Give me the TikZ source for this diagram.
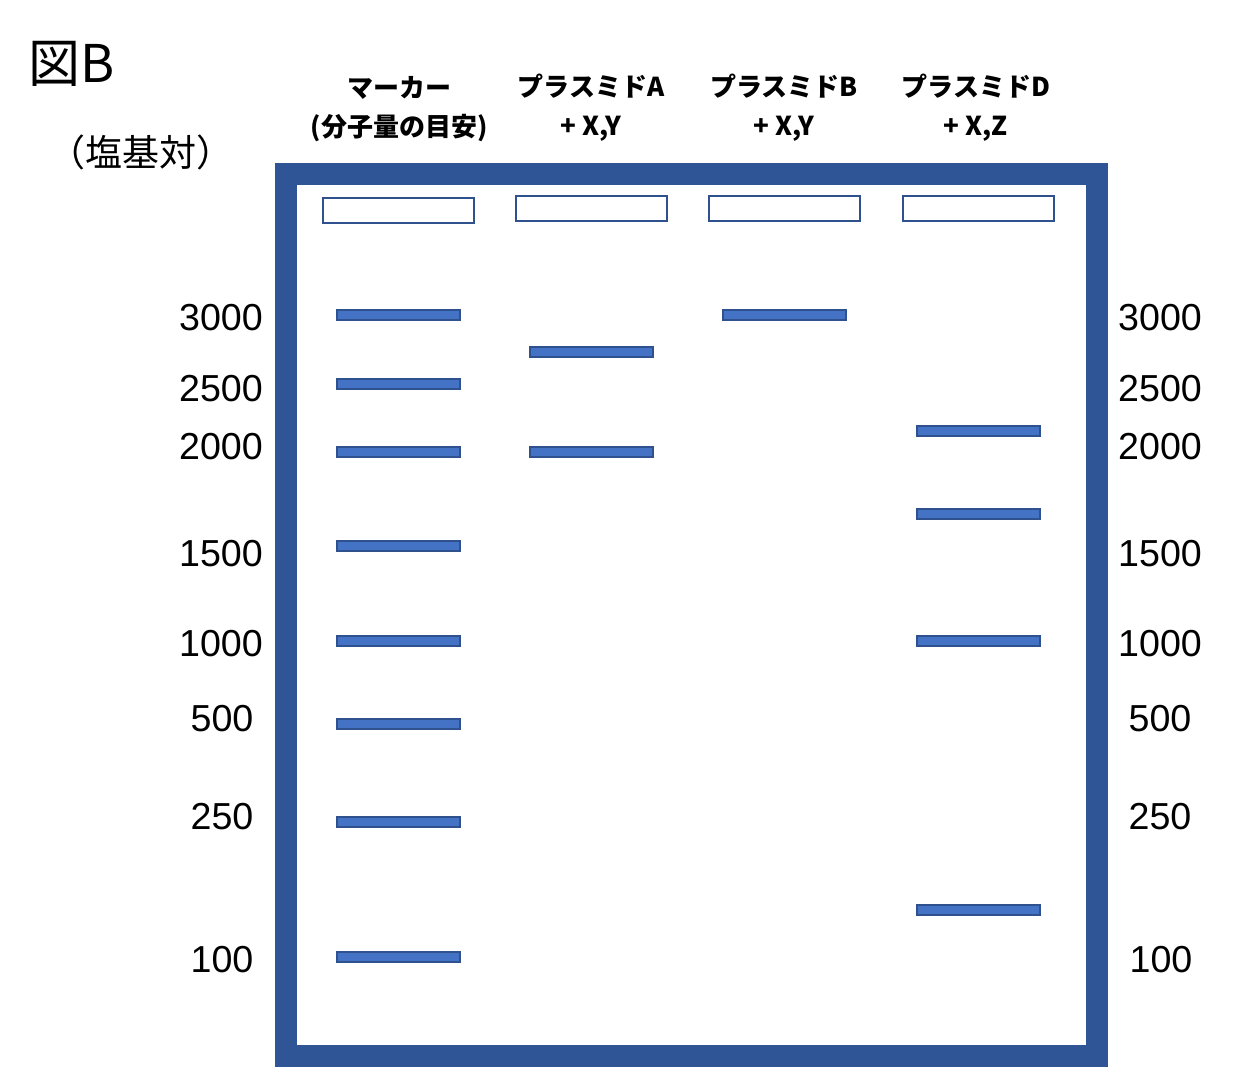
\documentclass[tikz,border=0pt]{standalone}
\usepackage{fontspec}
\setmainfont{Liberation Sans}
\newfontfamily\jpfont{Noto Sans CJK JP}
\usetikzlibrary{positioning}
\definecolor{gelblue}{HTML}{2F5597}
\definecolor{bandfill}{HTML}{4472C4}
\definecolor{bandline}{HTML}{2F528F}
\tikzset{
  band style/.style={rectangle, draw=bandline, fill=bandfill, line width=1pt,
    minimum width=61.5pt, minimum height=4.8pt, inner sep=0pt},
  well style/.style={rectangle, draw=bandline, fill=white, line width=1pt,
    minimum width=75.5pt, minimum height=12.5pt, inner sep=0pt},
  size style/.style={font=\fontsize{18.8}{21}\selectfont, inner sep=0pt},
  lane style/.style={font=\jpfont\bfseries\fontsize{13}{19.5}\selectfont, align=center, inner sep=0pt}
}
\begin{document}
\begin{tikzpicture}[x=0.5pt, y=-0.5pt]
\useasboundingbox (0,0) rectangle (1236,1086);

% titles
\node[font=\jpfont\fontsize{26}{30}\selectfont, inner sep=0pt] (title) at (72,64) {図B};
\node[font=\jpfont\fontsize{18.5}{21}\selectfont, inner sep=0pt] (unit) at (141,152) {（塩基対）};

% lane headings
\node[lane style] (hm) at (399,109) {マーカー\\(分子量の目安)};
\node[lane style] (ha) at (591,108) {プラスミドA\\+ X,Y};
\node[lane style] (hb) at (784,108) {プラスミドB\\+ X,Y};
\node[lane style] (hd) at (976,108) {プラスミドD\\+ X,Z};

% gel frame
\draw[gelblue, line width=11pt] (286,174) rectangle (1097,1056);

% wells
\node[well style] (wm) at (398,210) {};
\node[well style] (wa) at (591,208) {};
\node[well style] (wb) at (784,208) {};
\node[well style] (wd) at (978,208) {};

% marker lane
\node[band style] (m3000) at (398,315) {};
\node[band style] (m2500) at (398,384) {};
\node[band style] (m2000) at (398,452) {};
\node[band style] (m1500) at (398,546) {};
\node[band style] (m1000) at (398,641) {};
\node[band style] (m500) at (398,724) {};
\node[band style] (m250) at (398,822) {};
\node[band style] (m100) at (398,957) {};

% plasmid A
\node[band style] (a1) at (591,352) {};
\node[band style] (a2) at (591,452) {};

% plasmid B
\node[band style] (b1) at (784,315) {};

% plasmid D
\node[band style] (d1) at (978,431) {};
\node[band style] (d2) at (978,514) {};
\node[band style] (d3) at (978,641) {};
\node[band style] (d4) at (978,910) {};

% size labels, both sides
\node[size style] (l3000) at (221,318) {3000};
\node[size style] (l2500) at (221,389) {2500};
\node[size style] (l2000) at (221,447) {2000};
\node[size style] (l1500) at (221,554) {1500};
\node[size style] (l1000) at (221,644) {1000};
\node[size style] (l500) at (222,719) {500};
\node[size style] (l250) at (222,817) {250};
\node[size style] (l100) at (222,960) {100};

\node[size style] (r3000) at (1160,318) {3000};
\node[size style] (r2500) at (1160,389) {2500};
\node[size style] (r2000) at (1160,447) {2000};
\node[size style] (r1500) at (1160,554) {1500};
\node[size style] (r1000) at (1160,644) {1000};
\node[size style] (r500) at (1160,719) {500};
\node[size style] (r250) at (1160,817) {250};
\node[size style] (r100) at (1161,960) {100};

\end{tikzpicture}
\end{document}
